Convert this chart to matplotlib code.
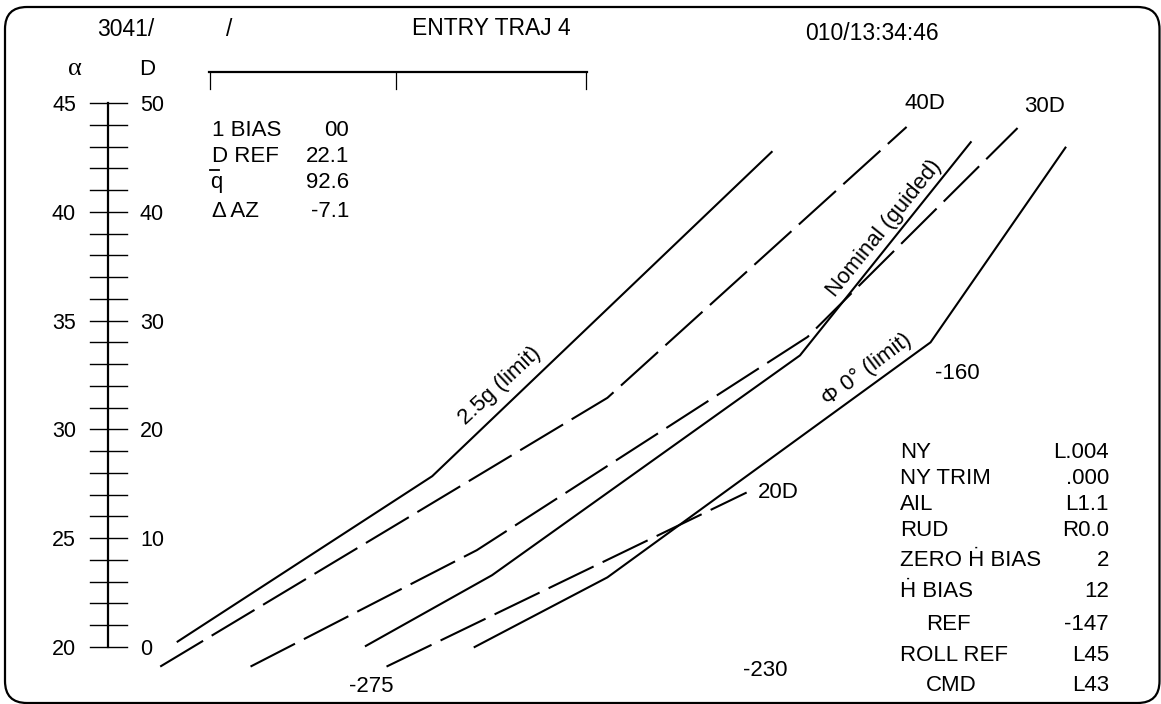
import matplotlib
matplotlib.use("Agg")
import numpy as np
import matplotlib.pyplot as plt
from matplotlib.patches import FancyBboxPatch

plt.rcParams["font.family"] = ["Liberation Sans", "DejaVu Sans"]

# trajectory lines: x = horizontal position (drag units right of the alpha/D scale), d = drag D
g25_x = [6.4, 29.8, 61.0]
g25_d = [0.5, 15.7, 45.5]
d40_x = [4.8, 45.9, 73.4]
d40_d = [-1.8, 22.9, 47.8]
d30_x = [13.1, 33.9, 64.3, 83.6]
d30_d = [-1.8, 8.9, 28.5, 47.7]
nom_x = [23.7, 35.3, 63.6, 79.3]
nom_d = [0.1, 6.6, 26.8, 46.4]
phi_x = [33.7, 45.9, 75.6, 88.0]
phi_d = [0.0, 6.4, 28.0, 45.9]
d20_x = [25.6, 58.7]
d20_d = [-1.8, 14.2]

# alpha / D scale
scale_d = np.arange(0, 51, 2)
alpha_labels = [45, 40, 35, 30, 25, 20]
d_labels = [50, 40, 30, 20, 10, 0]

# text blocks
left_names = ["1 BIAS", "D REF", "q", "\u0394 AZ"]
left_values = ["00", "22.1", "92.6", "-7.1"]
right_names = ["NY", "NY TRIM", "AIL", "RUD", "ZERO \u1E22 BIAS", "\u1E22 BIAS",
               "REF", "ROLL REF", "CMD"]
right_values = ["L.004", ".000", "L1.1", "R0.0", "2", "12", "-147", "L45", "L43"]
right_indent = [0, 0, 0, 0, 0, 0, 1, 0, 1]

W, H = 1161, 704
ox, oy, ppu = 108, 647, 10.88   # pixel origin of the D scale and pixels per D unit

fig = plt.figure(figsize=(W / 100, H / 100), dpi=100)
frame = fig.add_axes([0, 0, 1, 1])
frame.set_xlim(0, W)
frame.set_ylim(H, 0)
frame.axis("off")

ax = fig.add_axes([0, 0, 1, 1])
ax.set_xlim(-ox / ppu, (W - ox) / ppu)
ax.set_ylim((oy - H) / ppu, oy / ppu)
ax.axis("off")

fs = 16

# border and header
frame.add_patch(FancyBboxPatch((5, 7), 1154.5, 696, boxstyle="round,pad=0,rounding_size=22",
                               fill=False, lw=1.6, ec="black"))
frame.text(97, 36, "3041/", fontsize=16.5, va="baseline")
frame.text(226, 36, "/", fontsize=16.5, va="baseline")
frame.text(412, 35, "ENTRY TRAJ 4", fontsize=16.5, va="baseline")
frame.text(805, 40, "010/13:34:46", fontsize=16.5, va="baseline")
frame.plot([209, 587], [72, 72], color="black", lw=1.6)
for tx in [209.5, 396, 586]:
    frame.plot([tx, tx], [72, 89], color="black", lw=0.9)

# alpha / D scale
frame.text(74.5, 75, "\u03b1", fontsize=19, family="Liberation Serif", ha="center", va="baseline")
frame.text(139, 75, "D", fontsize=fs, va="baseline")
ax.plot([0, 0], [scale_d[0], scale_d[-1]], color="black", lw=1.6)
for d in scale_d:
    ax.plot([-1.65, 1.75], [d, d], color="black", lw=1.0)
for a, d in zip(alpha_labels, d_labels):
    ax.text(-2.94, d - 0.74, str(a), fontsize=fs - 0.5, ha="right", va="baseline")
    ax.text(2.94, d - 0.74, str(d), fontsize=fs - 0.5, ha="left", va="baseline")

# trajectory lines
ax.plot(g25_x, g25_d, color="black", lw=1.5)
ax.plot(nom_x, nom_d, color="black", lw=1.5)
ax.plot(phi_x, phi_d, color="black", lw=1.5)
for xs, ds in [(d40_x, d40_d), (d30_x, d30_d), (d20_x, d20_d)]:
    ax.plot(xs, ds, color="black", lw=1.5, dashes=(24, 4.8))

# line labels
frame.text(925, 109, "40D", fontsize=fs, ha="center", va="baseline")
frame.text(1045, 112, "30D", fontsize=fs, ha="center", va="baseline")
frame.text(778, 498, "20D", fontsize=fs, ha="center", va="baseline")
frame.text(957, 379, "-160", fontsize=fs, ha="center", va="baseline")
frame.text(765, 676, "-230", fontsize=fs, ha="center", va="baseline")
frame.text(371, 692, "-275", fontsize=fs, ha="center", va="baseline")
frame.text(500, 386, "2.5g (limit)", fontsize=fs, rotation=43, ha="center", va="center",
           rotation_mode="anchor")
frame.text(884, 228, "Nominal (guided)", fontsize=fs, rotation=51, ha="center", va="center",
           rotation_mode="anchor")
frame.text(867, 370, "\u03a6 0\u00b0 (limit)", fontsize=fs, rotation=37, ha="center", va="center",
           rotation_mode="anchor")

# left data block
for yb, name, val in zip([136, 162, 188, 217], left_names, left_values):
    frame.text(210 if name == "q" else 212, yb, name, fontsize=fs, va="baseline")
    frame.text(349, yb, val, fontsize=fs, ha="right", va="baseline")
frame.plot([210, 219], [170, 170], color="black", lw=1.3)

# right data block
for yb, name, val, ind in zip([458, 484, 510, 536, 566, 597, 630, 661, 691],
                              right_names, right_values, right_indent):
    frame.text(900 + 26 * ind, yb, name, fontsize=fs, va="baseline")
    frame.text(1109, yb, val, fontsize=fs, ha="right", va="baseline")

fig.savefig("out.png", dpi=100)
